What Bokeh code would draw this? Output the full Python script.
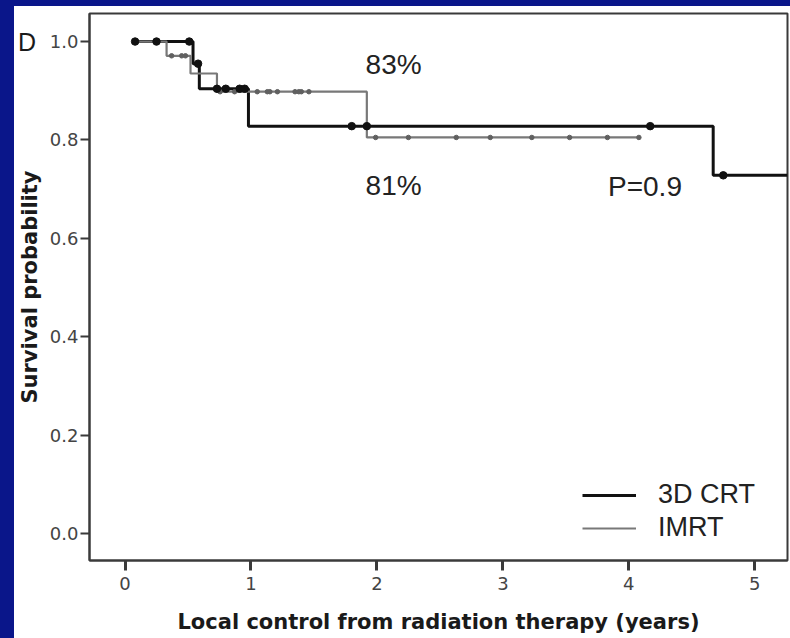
from bokeh.plotting import figure
from bokeh.models import (Range1d, FixedTicker, NumeralTickFormatter, Label, Legend,
                          LegendItem, Spacer, Div, GridBox)
from bokeh.layouts import column, row
from bokeh.embed import file_html
from bokeh.resources import INLINE

# ---- data ----
crt_step_t = [0.08, 0.54, 0.59, 0.98, 4.67, 5.26]
crt_step_s = [1.0, 0.955, 0.904, 0.828, 0.728, 0.728]
crt_cens_t = [0.08, 0.25, 0.51, 0.58, 0.73, 0.80, 0.91, 0.95, 1.80, 1.92, 4.17, 4.75]
crt_cens_s = [1.0, 1.0, 1.0, 0.955, 0.904, 0.904, 0.904, 0.904, 0.828, 0.828, 0.828, 0.728]

imrt_step_t = [0.08, 0.33, 0.52, 0.73, 1.92, 4.08]
imrt_step_s = [1.0, 0.971, 0.935, 0.898, 0.805, 0.805]
imrt_cens_t = [0.37, 0.45, 0.48, 0.755, 0.87, 1.05, 1.13, 1.15, 1.21, 1.35, 1.38, 1.40, 1.46,
               1.99, 2.25, 2.63, 2.90, 3.23, 3.53, 3.83, 4.08]
imrt_cens_s = [0.971, 0.971, 0.971] + [0.898] * 10 + [0.805] * 8

x_ticks = [0, 1, 2, 3, 4, 5]
y_ticks = [0.0, 0.2, 0.4, 0.6, 0.8, 1.0]
series_names = ["3D CRT", "IMRT"]
annotations = [("83%", 1.91, 0.953), ("81%", 1.91, 0.707), ("P=0.9", 3.835, 0.705)]
panel_letter = "D"

BLUE = "#0a168a"
AX = "#3a3a3a"

p = figure(frame_width=698, frame_height=547, output_backend="svg", toolbar_location=None,
           x_range=Range1d(-0.282, 5.26), y_range=Range1d(-0.055, 1.057),
           min_border_left=75, min_border_right=3, min_border_top=7, min_border_bottom=78,
           background_fill_color="white", border_fill_color="white")
p.xgrid.visible = False
p.ygrid.visible = False
p.outline_line_color = AX
p.outline_line_width = 2
p.outline_line_alpha = 1

p.xaxis.ticker = FixedTicker(ticks=x_ticks)
p.yaxis.ticker = FixedTicker(ticks=y_ticks)
p.yaxis.formatter = NumeralTickFormatter(format="0.0")
for ax in (p.xaxis, p.yaxis):
    ax.axis_line_color = AX
    ax.axis_line_width = 2
    ax.major_tick_line_color = AX
    ax.minor_tick_line_color = None
    ax.major_tick_in = 0
    ax.major_label_text_font = "DejaVu Sans"
    ax.major_label_text_font_size = "18px"
    ax.major_label_text_color = "#444444"
    ax.axis_label_text_font = "DejaVu Sans"
    ax.axis_label_text_font_style = "bold"
    ax.axis_label_text_font_size = "21px"
    ax.axis_label_text_color = "#1a1a1a"
p.xaxis.major_tick_out = 10
p.xaxis.major_tick_line_width = 3
p.xaxis.major_label_standoff = 6
p.xaxis.axis_label_standoff = 17
p.xaxis.axis_label = "Local control from radiation therapy (years)"
p.yaxis.major_tick_out = 9
p.yaxis.major_tick_line_width = 2
p.yaxis.major_label_standoff = 2
p.yaxis.axis_label_standoff = 5
p.yaxis.axis_label = "Survival probability"

r_crt = p.step(crt_step_t, crt_step_s, mode="after", line_color="#111111", line_width=3)
r_imrt = p.step(imrt_step_t, imrt_step_s, mode="after", line_color="#787878", line_width=2.2)
p.scatter(imrt_cens_t, imrt_cens_s, marker="circle", size=4.5, color="#606060")
p.scatter(crt_cens_t, crt_cens_s, marker="circle", size=7.5, color="#111111")

for txt, tx, ty in annotations:
    p.add_layout(Label(x=tx, y=ty, text=txt, text_font="Liberation Sans",
                       text_font_size="28px", text_color="#222222",
                       text_baseline="alphabetic", text_align="left"))

legend = Legend(items=[LegendItem(label=series_names[0], renderers=[r_crt]),
                       LegendItem(label=series_names[1], renderers=[r_imrt])],
                location=(493, 17), orientation="vertical",
                border_line_color=None, background_fill_alpha=0,
                padding=0, margin=0, spacing=2,
                glyph_width=54, glyph_height=20, label_height=20, label_standoff=22,
                label_text_font="Liberation Sans", label_text_font_size="27px",
                label_text_color="#222222")
p.add_layout(legend, "center")

# panel letter, laid over the plot's left border
letter = Div(text=panel_letter, width=30, height=30, align="start", margin=(24, 0, 0, 4),
             styles={"font-family": "Liberation Sans", "font-size": "25px",
                     "line-height": "1", "color": "#1a1a1a"})
panel = GridBox(children=[(p, 0, 0), (letter, 0, 0)], spacing=0)

top = Spacer(width=790, height=6, styles={"background-color": BLUE})
left = Spacer(width=14, height=632, styles={"background-color": BLUE})
layout = column(top, row(left, panel, spacing=0), spacing=0)

open("out.html", "w").write(file_html(layout, INLINE))
